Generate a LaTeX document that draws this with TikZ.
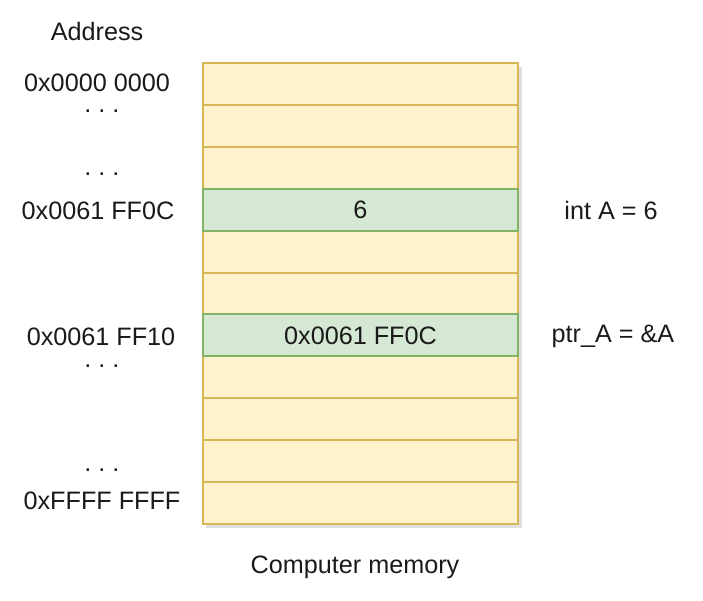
\documentclass[tikz,border=0pt]{standalone}
\usepackage{fontspec}
\setmainfont{Liberation Sans}
\definecolor{cellfill}{HTML}{FFF2CC}
\definecolor{celldraw}{HTML}{D6B656}
\definecolor{hotfill}{HTML}{D5E8D4}
\definecolor{hotdraw}{HTML}{82B366}
\definecolor{txt}{HTML}{1A1A1A}
\tikzset{
  cell/.style={rectangle, draw=celldraw, fill=cellfill, line width=1.5pt,
    minimum width=236.6pt, minimum height=31.43pt, inner sep=0pt, outer sep=0pt,
    font=\fontsize{18.9}{22}\selectfont, text=txt},
  hotcell/.style={cell, draw=hotdraw, fill=hotfill},
  lbl/.style={font=\fontsize{18.9}{22}\selectfont, text=txt, inner sep=0pt},
  addrlbl/.style={lbl, text height=13.5pt, text depth=0pt},
  dotlbl/.style={lbl, anchor=base, text height=2pt, text depth=0pt}
}
\begin{document}
\begin{tikzpicture}[x=0.75pt, y=-0.75pt]
\useasboundingbox (0,0) rectangle (703,600);
% shadow of memory block
\fill[black, opacity=0.12] (206,67) rectangle (522,528);
% rows
\foreach \i in {0,1,2,4,5,7,8,9,10} {
  \node[cell] (r\i) at (360.5, {63+41.9*\i+20.95}) {};
}
\node[hotcell] (r3) at (360.5, {63+41.9*3+20.95}) {6};
\node[hotcell] (r6) at (360.5, {63+41.9*6+20.95}) {0x0061 FF0C};
% left labels
\node[lbl] (addr) at (97,31) {Address};
\node[addrlbl] (a0) at (97,82) {0x0000 0000};
\node[dotlbl] (d1) at (102,112) {.\ .\ .};
\node[dotlbl] (d2) at (102,175) {.\ .\ .};
\node[addrlbl] (a1) at (98,210) {0x0061 FF0C};
\node[addrlbl] (a2) at (101,336) {0x0061 FF10};
\node[dotlbl] (d3) at (102,367) {.\ .\ .};
\node[dotlbl] (d4) at (102,471) {.\ .\ .};
\node[addrlbl] (a3) at (102,500) {0xFFFF FFFF};
% right labels
\node[lbl] (va) at (611,210) {int A = 6};
\node[lbl] (vp) at (613,336) {ptr\_A = \&A};
% caption
\node[lbl] (cap) at (355,567) {Computer memory};
\end{tikzpicture}
\end{document}
